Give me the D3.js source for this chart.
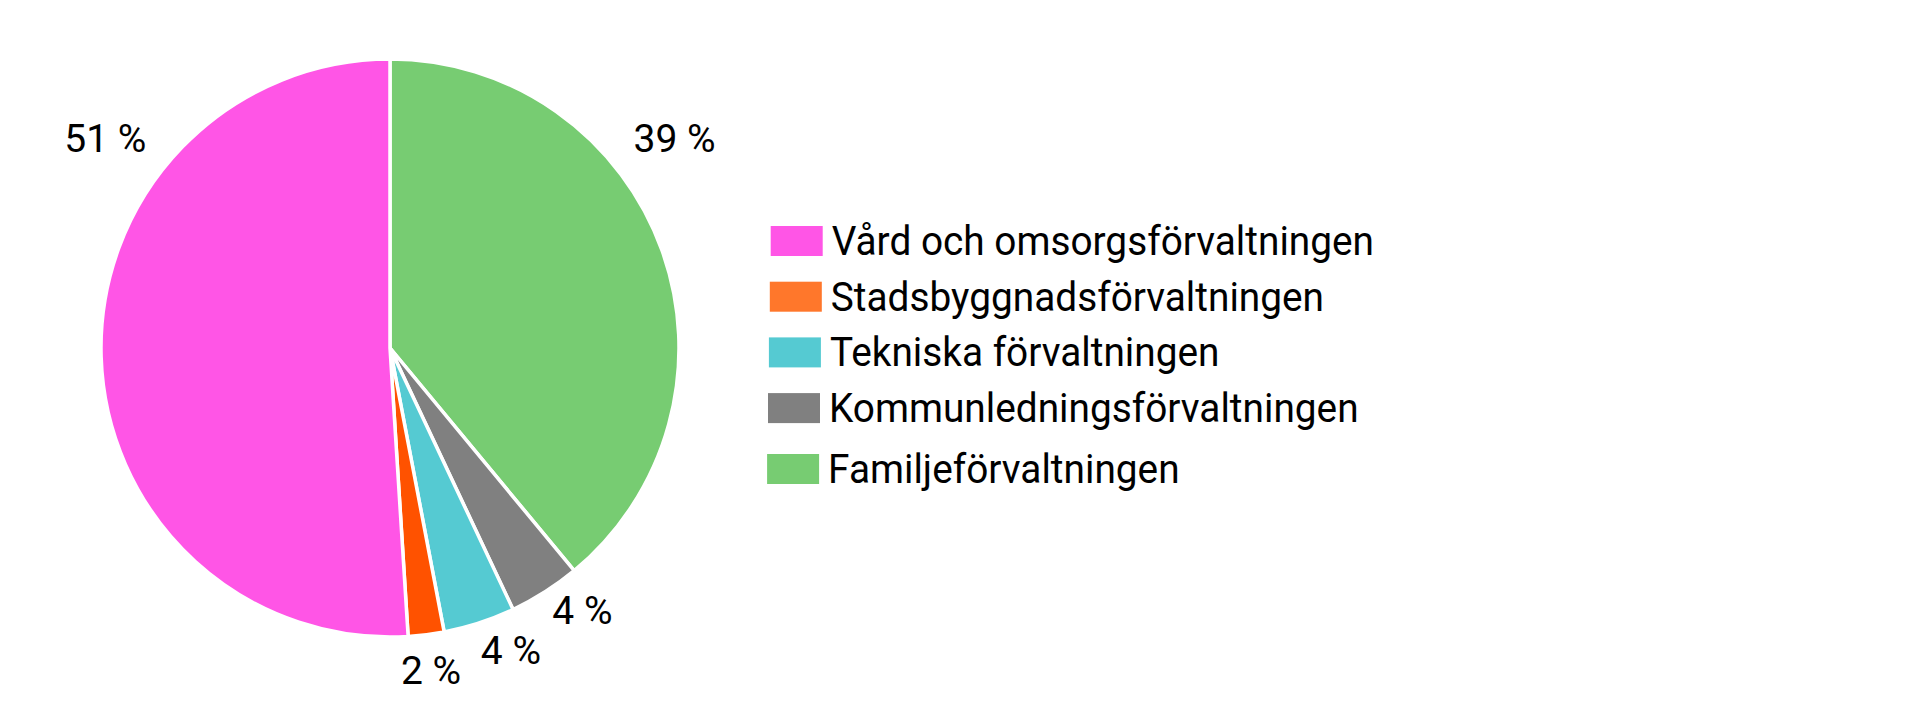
<!DOCTYPE html>
<html>
<head>
<meta charset="utf-8">
<style>
  body { margin: 0; background: #fff; }
  text { font-family: "Roboto", sans-serif; fill: #000; }
</style>
</head>
<body>
<svg width="1918" height="712"></svg>
<script src="https://cdn.jsdelivr.net/npm/d3@7"></script>
<script>

// slices in drawing order, clockwise from 12 o'clock
var categories = ["Familjeförvaltningen", "Kommunledningsförvaltningen", "Tekniska förvaltningen",
                  "Stadsbyggnadsförvaltningen", "Vård och omsorgsförvaltningen"],
    values = [39, 4, 4, 2, 51],
    sliceColors = ["#77cc72", "#808080", "#55cad2", "#ff5200", "#ff55e6"];

// legend runs the other way round
var legendOrder = ["Vård och omsorgsförvaltningen", "Stadsbyggnadsförvaltningen", "Tekniska förvaltningen",
                   "Kommunledningsförvaltningen", "Familjeförvaltningen"],
    legendColors = ["#ff55e6", "#ff772b", "#55cad2", "#808080", "#77cc72"];

var svg = d3.select("svg"),
    cx = 390, cy = 348, r = 289;

var pie = d3.pie().sort(null).value(function(d) { return d; }),
    arc = d3.arc().innerRadius(0).outerRadius(r),
    arcs = pie(values);

var g = svg.append("g").attr("transform", "translate(" + cx + "," + cy + ")");

g.selectAll("path")
    .data(arcs)
  .enter().append("path")
    .attr("d", arc)
    .attr("fill", function(d, i) { return sliceColors[i]; })
    .attr("stroke", "#fff")
    .attr("stroke-width", 3.5)
    .attr("stroke-linejoin", "miter");

// labels: small slices just outside the edge (pushed a little up-left,
// away from the bottom), big ones up in the corners
var deg = Math.PI / 180;
function labelPos(d) {
  var mid = (d.startAngle + d.endAngle) / 2, a, rr;
  if (d.value > 20) {
    a = mid < Math.PI ? 0.934 : -0.934;
    rr = 354;
  } else {
    var off = Math.max(0, Math.min(3.9, (180 - mid / deg - 7) * 0.35));
    a = mid - off * deg;
    rr = 325;
  }
  return [Math.sin(a) * rr, -Math.cos(a) * rr];
}

g.selectAll("text.lbl")
    .data(arcs)
  .enter().append("text")
    .attr("class", "lbl")
    .attr("x", function(d) { return labelPos(d)[0]; })
    .attr("y", function(d) { return labelPos(d)[1] + 14; })
    .attr("text-anchor", "middle")
    .style("font-size", "39px")
    .text(function(d) { return d.value + " %"; });

var ly = d3.scalePoint().domain(legendOrder).range([226, 448.8]);

var leg = svg.append("g").selectAll("g")
    .data(legendOrder)
  .enter().append("g")
    .attr("transform", function(d, i) {
      return "translate(" + (770.7 - i * 0.9) + "," + (ly(d) + (i == 4 ? 5.2 : 0)) + ")";
    });

leg.append("rect")
    .attr("width", 52)
    .attr("height", 30)
    .attr("fill", function(d, i) { return legendColors[i]; });

// legend face in the original is a bit narrower than Roboto
leg.append("text")
    .attr("transform", "translate(61,29) scale(0.97,1)")
    .style("font-size", "40px")
    .text(function(d) { return d; });

</script>
</body>
</html>
